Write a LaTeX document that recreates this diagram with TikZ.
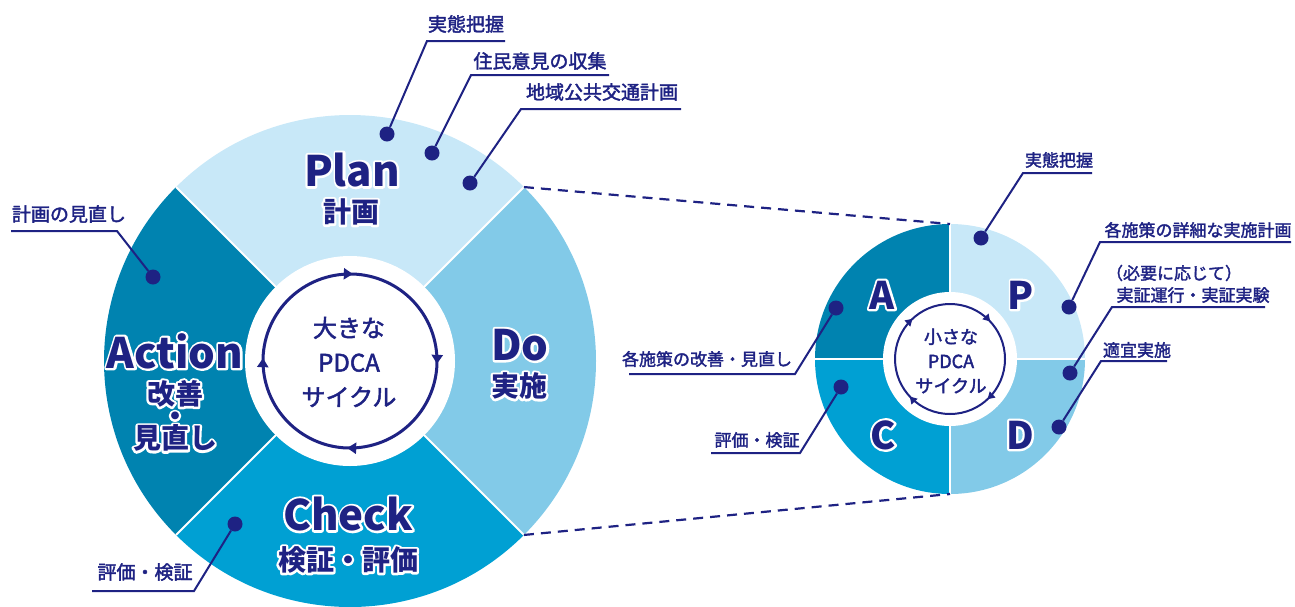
\documentclass[tikz,border=0pt]{standalone}
\usepackage{fontspec}
\setmainfont{Noto Sans CJK JP}
\newfontfamily\jpmed{Noto Sans CJK JP}[FakeBold=2]
\usetikzlibrary{decorations.markings,arrows.meta}
\definecolor{navy}{HTML}{1E2283}
\definecolor{cplan}{HTML}{C8E8F8}
\definecolor{cdo}{HTML}{82CAE8}
\definecolor{ccheck}{HTML}{00A0D3}
\definecolor{cact}{HTML}{0083B0}
% white halo: a stroked-only copy under the filled text
\newcommand{\olt}[1]{\leavevmode\rlap{\special{pdf:literal direct 1 Tr 4.5 w 1 1 1 RG 1 j}#1\special{pdf:literal direct 0 Tr 1 w}}#1}
\begin{document}
\begin{tikzpicture}[x=1pt,y=-1pt,
  ann/.style={text=navy, inner sep=0pt, font=\jpmed\fontsize{19}{21}\selectfont},
  anns/.style={text=navy, inner sep=0pt, font=\jpmed\fontsize{17}{19}\selectfont},
  dot/.style={circle, fill=navy, inner sep=0pt, minimum size=15pt},
  lead/.style={draw=navy, line width=2pt},
  bigword/.style={text=navy, font=\bfseries\fontsize{42}{44}\selectfont, inner sep=0pt},
  letter/.style={text=navy, font=\bfseries\fontsize{38}{40}\selectfont, inner sep=0pt},
  subword/.style={text=navy, font=\bfseries\fontsize{28}{30}\selectfont, inner sep=0pt},
  zoomline/.style={draw=navy, line width=2.2pt, dash pattern=on 10pt off 7pt},
  sepline/.style={draw=white, line width=2pt},
  ring/.style={draw=navy, line width=3pt}]

\useasboundingbox (0,0) rectangle (1295,606);

% ---------- big circle ----------
\coordinate (C) at (350,361);
\fill[cplan]  (C) -- ++(-135:246) arc[start angle=-135,end angle=-45,radius=246] -- cycle;
\fill[cdo]    (C) -- ++(-45:246)  arc[start angle=-45,end angle=45,radius=246] -- cycle;
\fill[ccheck] (C) -- ++(45:246)   arc[start angle=45,end angle=135,radius=246] -- cycle;
\fill[cact]   (C) -- ++(135:246)  arc[start angle=135,end angle=225,radius=246] -- cycle;
\foreach \a in {-135,-45,45,135} \draw[sepline] (C) -- ++(\a:246);
\fill[white] (C) circle[radius=105];
\path (C) ++(-45:246) coordinate (bNE);
\path (C) ++(45:246) coordinate (bSE);

\draw[ring, postaction={decorate}, decoration={markings,
   mark=at position 0.033 with {\arrow{Triangle[length=9pt,width=11pt]}},
   mark=at position 0.283 with {\arrow{Triangle[length=9pt,width=11pt]}},
   mark=at position 0.533 with {\arrow{Triangle[length=9pt,width=11pt]}},
   mark=at position 0.783 with {\arrow{Triangle[length=9pt,width=11pt]}}}]
   (C) ++(-100:87) arc[start angle=-100,end angle=260,radius=87];

\node[text=navy, align=center, inner sep=0pt, font=\jpmed\fontsize{24}{34.5}\selectfont] (bigc) at (349,362) {大きな\\PDCA\\サイクル};

\node[bigword] (plan) at (352,170) {\olt{Plan}};
\node[subword] (plansub) at (351,212) {\olt{計画}};
\node[bigword] (action) at (175,351) {\olt{Action}};
\node[subword, align=center, font={\bfseries\fontsize{28}{22.2}\selectfont\lineskiplimit=-60pt\lineskip=0pt}] (actsub) at (175,416) {\olt{改善}\\\olt{・}\\\olt{見直し}};
\node[bigword] (do) at (520,345) {\olt{Do}};
\node[subword] (dosub) at (519,386) {\olt{実施}};
\node[bigword] (check) at (348,514) {\olt{Check}};
\node[subword] (checksub) at (348,560) {\olt{検証・評価}};

% ---------- small circle ----------
\coordinate (S) at (950,359);
\fill[cplan]  (S) -- ++(-90:135) arc[start angle=-90,end angle=0,radius=135] -- cycle;
\fill[cdo]    (S) -- ++(0:135)   arc[start angle=0,end angle=90,radius=135] -- cycle;
\fill[ccheck] (S) -- ++(90:135)  arc[start angle=90,end angle=180,radius=135] -- cycle;
\fill[cact]   (S) -- ++(180:135) arc[start angle=180,end angle=270,radius=135] -- cycle;
\foreach \a in {-90,0,90,180} \draw[sepline] (S) -- ++(\a:135);
\fill[white] (S) circle[radius=67];
\path (S) ++(-90:135) coordinate (sN);
\path (S) ++(90:135) coordinate (sS);

\draw[navy, line width=2pt, postaction={decorate}, decoration={markings,
   mark=at position 0.1306 with {\arrow{Triangle[length=7pt,width=8pt]}},
   mark=at position 0.3806 with {\arrow{Triangle[length=7pt,width=8pt]}},
   mark=at position 0.6306 with {\arrow{Triangle[length=7pt,width=8pt]}},
   mark=at position 0.8806 with {\arrow{Triangle[length=7pt,width=8pt]}}}]
   (S) ++(-180:55) arc[start angle=-180,end angle=180,radius=55];

\node[text=navy, align=center, inner sep=0pt, font=\jpmed\fontsize{18}{24.5}\selectfont] (smallc) at (951,361) {小さな\\PDCA\\サイクル};

\node[letter] (lA) at (882,295) {\olt{A}};
\node[letter] (lP) at (1021,295) {\olt{P}};
\node[letter] (lC) at (883,435) {\olt{C}};
\node[letter] (lD) at (1020,435) {\olt{D}};

% ---------- dashed zoom lines ----------
\draw[zoomline] (bNE) -- (sN);
\draw[zoomline] (bSE) -- (sS);

% ---------- annotations, big circle ----------
\node[ann] (t1) at (466,24) {実態把握};
\coordinate (u1a) at (427,41); \coordinate (u1b) at (505,41);
\node[dot] (d1) at (387,134) {};
\draw[lead] (d1) -- (u1a) -- (u1b);

\node[ann] (t2) at (540,61) {住民意見の収集};
\coordinate (u2a) at (471,75); \coordinate (u2b) at (609,75);
\node[dot] (d2) at (432,153) {};
\draw[lead] (d2) -- (u2a) -- (u2b);

\node[ann] (t3) at (602,92) {地域公共交通計画};
\coordinate (u3a) at (521,109); \coordinate (u3b) at (681,109);
\node[dot] (d3) at (470,183) {};
\draw[lead] (d3) -- (u3a) -- (u3b);

\node[ann] (t4) at (69,214) {計画の見直し};
\coordinate (u4a) at (11,231); \coordinate (u4b) at (117,231);
\node[dot] (d4) at (153,277) {};
\draw[lead] (u4a) -- (u4b) -- (d4);

\node[ann] (t5) at (145,572) {評価・検証};
\coordinate (u5a) at (92,591); \coordinate (u5b) at (194,591);
\node[dot] (d5) at (235,524) {};
\draw[lead] (u5a) -- (u5b) -- (d5);

% ---------- annotations, small circle ----------
\node[anns] (s1) at (1059,160) {実態把握};
\coordinate (v1a) at (1023,173); \coordinate (v1b) at (1092,173);
\node[dot] (e1) at (981,238) {};
\draw[lead] (e1) -- (v1a) -- (v1b);

\node[anns] (s2) at (1198,230) {各施策の詳細な実施計画};
\coordinate (v2a) at (1100,242); \coordinate (v2b) at (1291,242);
\node[dot] (e2) at (1069,307) {};
\draw[lead] (e2) -- (v2a) -- (v2b);

\node[anns] (s3a) at (1174,273) {（必要に応じて）};
\node[anns] (s3b) at (1193,295) {実証運行・実証実験};
\coordinate (v3a) at (1112,307); \coordinate (v3b) at (1265,307);
\node[dot] (e3) at (1070,373) {};
\draw[lead] (e3) -- (v3a) -- (v3b);

\node[anns] (s4) at (1137,350) {適宜実施};
\coordinate (v4a) at (1101,361); \coordinate (v4b) at (1167,361);
\node[dot] (e4) at (1059,427) {};
\draw[lead] (e4) -- (v4a) -- (v4b);

\node[anns] (s5) at (707,359) {各施策の改善・見直し};
\coordinate (v5a) at (629,374); \coordinate (v5b) at (795,374);
\node[dot] (e5) at (836,308) {};
\draw[lead] (v5a) -- (v5b) -- (e5);

\node[anns] (s6) at (757,440) {評価・検証};
\coordinate (v6a) at (711,453); \coordinate (v6b) at (800,453);
\node[dot] (e6) at (841,387) {};
\draw[lead] (v6a) -- (v6b) -- (e6);

\end{tikzpicture}
\end{document}
